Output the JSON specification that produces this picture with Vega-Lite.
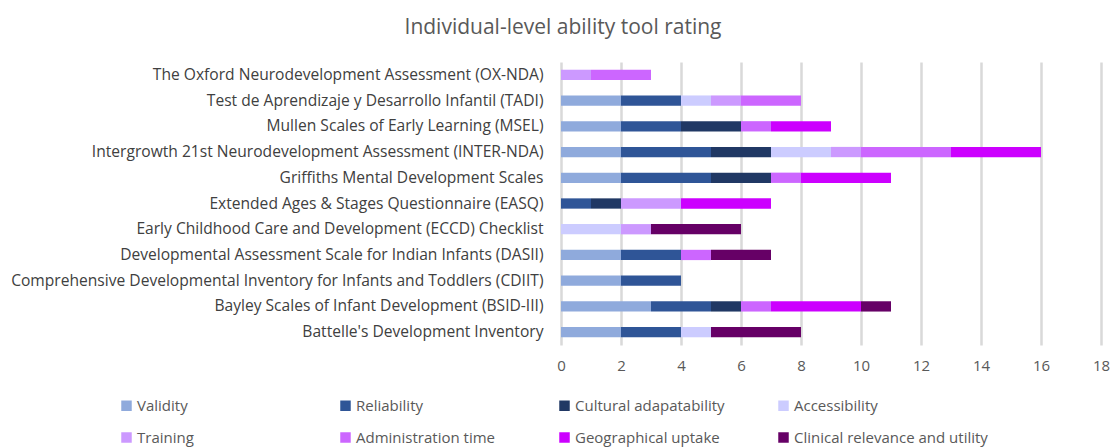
{
  "$schema": "https://vega.github.io/schema/vega-lite/v6.json",
  "autosize": "none",
  "width": 540,
  "height": 283,
  "padding": {"left": 561, "top": 62, "right": 10, "bottom": 103},
  "background": "white",
  "config": {
    "font": "Open Sans",
    "view": {"stroke": null}
  },
  "title": {
    "text": "Individual-level ability tool rating",
    "fontSize": 21,
    "fontWeight": "normal",
    "color": "#595959",
    "anchor": "middle",
    "dx": -268,
    "offset": 24
  },
  "data": {
    "values": [
      {"tool": "The Oxford Neurodevelopment Assessment (OX-NDA)", "criterion": "Training", "k": 5, "value": 1},
      {"tool": "The Oxford Neurodevelopment Assessment (OX-NDA)", "criterion": "Administration time", "k": 6, "value": 2},

      {"tool": "Test de Aprendizaje y Desarrollo Infantil (TADI)", "criterion": "Validity", "k": 1, "value": 2},
      {"tool": "Test de Aprendizaje y Desarrollo Infantil (TADI)", "criterion": "Reliability", "k": 2, "value": 2},
      {"tool": "Test de Aprendizaje y Desarrollo Infantil (TADI)", "criterion": "Accessibility", "k": 4, "value": 1},
      {"tool": "Test de Aprendizaje y Desarrollo Infantil (TADI)", "criterion": "Training", "k": 5, "value": 1},
      {"tool": "Test de Aprendizaje y Desarrollo Infantil (TADI)", "criterion": "Administration time", "k": 6, "value": 2},

      {"tool": "Mullen Scales of Early Learning (MSEL)", "criterion": "Validity", "k": 1, "value": 2},
      {"tool": "Mullen Scales of Early Learning (MSEL)", "criterion": "Reliability", "k": 2, "value": 2},
      {"tool": "Mullen Scales of Early Learning (MSEL)", "criterion": "Cultural adapatability", "k": 3, "value": 2},
      {"tool": "Mullen Scales of Early Learning (MSEL)", "criterion": "Administration time", "k": 6, "value": 1},
      {"tool": "Mullen Scales of Early Learning (MSEL)", "criterion": "Geographical uptake", "k": 7, "value": 2},

      {"tool": "Intergrowth 21st Neurodevelopment Assessment (INTER-NDA)", "criterion": "Validity", "k": 1, "value": 2},
      {"tool": "Intergrowth 21st Neurodevelopment Assessment (INTER-NDA)", "criterion": "Reliability", "k": 2, "value": 3},
      {"tool": "Intergrowth 21st Neurodevelopment Assessment (INTER-NDA)", "criterion": "Cultural adapatability", "k": 3, "value": 2},
      {"tool": "Intergrowth 21st Neurodevelopment Assessment (INTER-NDA)", "criterion": "Accessibility", "k": 4, "value": 2},
      {"tool": "Intergrowth 21st Neurodevelopment Assessment (INTER-NDA)", "criterion": "Training", "k": 5, "value": 1},
      {"tool": "Intergrowth 21st Neurodevelopment Assessment (INTER-NDA)", "criterion": "Administration time", "k": 6, "value": 3},
      {"tool": "Intergrowth 21st Neurodevelopment Assessment (INTER-NDA)", "criterion": "Geographical uptake", "k": 7, "value": 3},

      {"tool": "Griffiths Mental Development Scales", "criterion": "Validity", "k": 1, "value": 2},
      {"tool": "Griffiths Mental Development Scales", "criterion": "Reliability", "k": 2, "value": 3},
      {"tool": "Griffiths Mental Development Scales", "criterion": "Cultural adapatability", "k": 3, "value": 2},
      {"tool": "Griffiths Mental Development Scales", "criterion": "Administration time", "k": 6, "value": 1},
      {"tool": "Griffiths Mental Development Scales", "criterion": "Geographical uptake", "k": 7, "value": 3},

      {"tool": "Extended Ages & Stages Questionnaire (EASQ)", "criterion": "Reliability", "k": 2, "value": 1},
      {"tool": "Extended Ages & Stages Questionnaire (EASQ)", "criterion": "Cultural adapatability", "k": 3, "value": 1},
      {"tool": "Extended Ages & Stages Questionnaire (EASQ)", "criterion": "Training", "k": 5, "value": 2},
      {"tool": "Extended Ages & Stages Questionnaire (EASQ)", "criterion": "Geographical uptake", "k": 7, "value": 3},

      {"tool": "Early Childhood Care and Development (ECCD) Checklist", "criterion": "Accessibility", "k": 4, "value": 2},
      {"tool": "Early Childhood Care and Development (ECCD) Checklist", "criterion": "Training", "k": 5, "value": 1},
      {"tool": "Early Childhood Care and Development (ECCD) Checklist", "criterion": "Clinical relevance and utility", "k": 8, "value": 3},

      {"tool": "Developmental Assessment Scale for Indian Infants (DASII)", "criterion": "Validity", "k": 1, "value": 2},
      {"tool": "Developmental Assessment Scale for Indian Infants (DASII)", "criterion": "Reliability", "k": 2, "value": 2},
      {"tool": "Developmental Assessment Scale for Indian Infants (DASII)", "criterion": "Administration time", "k": 6, "value": 1},
      {"tool": "Developmental Assessment Scale for Indian Infants (DASII)", "criterion": "Clinical relevance and utility", "k": 8, "value": 2},

      {"tool": "Comprehensive Developmental Inventory for Infants and Toddlers (CDIIT)", "criterion": "Validity", "k": 1, "value": 2},
      {"tool": "Comprehensive Developmental Inventory for Infants and Toddlers (CDIIT)", "criterion": "Reliability", "k": 2, "value": 2},

      {"tool": "Bayley Scales of Infant Development (BSID-III)", "criterion": "Validity", "k": 1, "value": 3},
      {"tool": "Bayley Scales of Infant Development (BSID-III)", "criterion": "Reliability", "k": 2, "value": 2},
      {"tool": "Bayley Scales of Infant Development (BSID-III)", "criterion": "Cultural adapatability", "k": 3, "value": 1},
      {"tool": "Bayley Scales of Infant Development (BSID-III)", "criterion": "Administration time", "k": 6, "value": 1},
      {"tool": "Bayley Scales of Infant Development (BSID-III)", "criterion": "Geographical uptake", "k": 7, "value": 3},
      {"tool": "Bayley Scales of Infant Development (BSID-III)", "criterion": "Clinical relevance and utility", "k": 8, "value": 1},

      {"tool": "Battelle's Development Inventory", "criterion": "Validity", "k": 1, "value": 2},
      {"tool": "Battelle's Development Inventory", "criterion": "Reliability", "k": 2, "value": 2},
      {"tool": "Battelle's Development Inventory", "criterion": "Accessibility", "k": 4, "value": 1},
      {"tool": "Battelle's Development Inventory", "criterion": "Clinical relevance and utility", "k": 8, "value": 3}
    ]
  },
  "mark": {"type": "bar"},
  "encoding": {
    "y": {
      "field": "tool",
      "type": "nominal",
      "sort": [
        "The Oxford Neurodevelopment Assessment (OX-NDA)",
        "Test de Aprendizaje y Desarrollo Infantil (TADI)",
        "Mullen Scales of Early Learning (MSEL)",
        "Intergrowth 21st Neurodevelopment Assessment (INTER-NDA)",
        "Griffiths Mental Development Scales",
        "Extended Ages & Stages Questionnaire (EASQ)",
        "Early Childhood Care and Development (ECCD) Checklist",
        "Developmental Assessment Scale for Indian Infants (DASII)",
        "Comprehensive Developmental Inventory for Infants and Toddlers (CDIIT)",
        "Bayley Scales of Infant Development (BSID-III)",
        "Battelle's Development Inventory"
      ],
      "scale": {"paddingInner": 0.6, "paddingOuter": 0.3},
      "axis": {
        "title": null,
        "domain": false,
        "ticks": false,
        "labelPadding": 18,
        "labelFontSize": 15.6,
        "labelColor": "#404040",
        "labelLimit": 600
      }
    },
    "x": {
      "field": "value",
      "type": "quantitative",
      "aggregate": "sum",
      "stack": "zero",
      "scale": {"domain": [0, 18], "nice": false},
      "axis": {
        "title": null,
        "values": [0, 2, 4, 6, 8, 10, 12, 14, 16, 18],
        "domain": false,
        "ticks": false,
        "grid": true,
        "gridColor": "#d9d9d9",
        "gridWidth": 2.5,
        "labelFlush": false,
        "labelFontSize": 15,
        "labelColor": "#595959",
        "labelPadding": 13
      }
    },
    "order": {"field": "k", "type": "quantitative", "aggregate": "min", "sort": "ascending"},
    "color": {
      "field": "criterion",
      "type": "nominal",
      "scale": {
        "domain": ["Validity", "Reliability", "Cultural adapatability", "Accessibility", "Training", "Administration time", "Geographical uptake", "Clinical relevance and utility"],
        "range": ["#8faadc", "#2f5597", "#203864", "#ccccff", "#cc99ff", "#cc66ff", "#cc00ff", "#660066"]
      },
      "legend": {
        "title": null,
        "orient": "none",
        "legendX": -442,
        "legendY": 336,
        "direction": "horizontal",
        "columns": 4,
        "gridAlign": "all",
        "columnPadding": 7,
        "rowPadding": 16,
        "symbolType": "square",
        "symbolSize": 110,
        "symbolStrokeWidth": 0,
        "labelFontSize": 15,
        "labelColor": "#595959",
        "labelOffset": 3,
        "labelLimit": 300
      }
    }
  }
}
